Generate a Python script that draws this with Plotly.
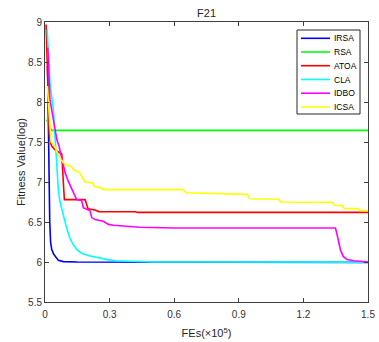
import plotly.graph_objects as go

names = ["IRSA", "RSA", "ATOA", "CLA", "IDBO", "ICSA"]
colors = ["#0000ff", "#00ff00", "#ff0000", "#00ffff", "#ff00ff", "#ffff00"]

irsa_x = [0.012, 0.015, 0.018, 0.022, 0.026, 0.031, 0.04, 0.047, 0.055, 0.062, 0.085, 0.15, 1.5]
irsa_y = [8.45, 7.7, 7.0, 6.5, 6.25, 6.16, 6.1, 6.07, 6.04, 6.02, 6.005, 6.0, 5.995]

rsa_x = [0.008, 0.02, 0.03, 1.5]
rsa_y = [7.78, 7.70, 7.645, 7.645]

atoa_x = [0.005, 0.01, 0.015, 0.02, 0.025, 0.031, 0.047, 0.07, 0.078, 0.085, 0.09, 0.186, 0.2, 0.232, 0.25, 0.42, 0.43, 1.5]
atoa_y = [8.97, 8.5, 7.9, 7.6, 7.5, 7.45, 7.4, 7.37, 7.35, 7.0, 6.78, 6.78, 6.665, 6.65, 6.63, 6.628, 6.62, 6.62]

cla_x = [0.01, 0.023, 0.039, 0.047, 0.055, 0.062, 0.07, 0.085, 0.1, 0.115, 0.13, 0.15, 0.17, 0.2, 0.25, 0.29, 0.33, 0.4, 0.5, 1.5]
cla_y = [8.9, 8.24, 7.9, 7.55, 7.2, 6.9, 6.75, 6.57, 6.43, 6.3, 6.22, 6.15, 6.11, 6.08, 6.05, 6.03, 6.015, 6.005, 6.0, 5.998]

idbo_x = [0.013, 0.023, 0.039, 0.055, 0.065, 0.078, 0.093, 0.108, 0.132, 0.147, 0.17, 0.178, 0.209, 0.217, 0.233, 0.271, 0.295, 0.318, 0.364, 0.44, 0.6, 1.349, 1.36, 1.372, 1.385, 1.403, 1.434, 1.5]
idbo_y = [8.68, 8.03, 7.78, 7.53, 7.45, 7.28, 7.12, 7.01, 6.865, 6.78, 6.77, 6.68, 6.64, 6.555, 6.53, 6.51, 6.47, 6.46, 6.45, 6.435, 6.425, 6.425, 6.3, 6.15, 6.07, 6.03, 6.015, 6.0]

icsa_x = [0.011, 0.016, 0.023, 0.028, 0.045, 0.06, 0.075, 0.085, 0.1, 0.12, 0.135, 0.16, 0.175, 0.185, 0.22, 0.23, 0.26, 0.27, 0.64, 0.655, 0.94, 0.95, 1.085, 1.095, 1.335, 1.345, 1.38, 1.39, 1.455, 1.465, 1.5]
icsa_y = [8.2, 7.95, 7.7, 7.5, 7.45, 7.35, 7.28, 7.24, 7.21, 7.2, 7.15, 7.12, 7.05, 7.0, 6.99, 6.94, 6.93, 6.905, 6.905, 6.865, 6.845, 6.79, 6.785, 6.75, 6.745, 6.71, 6.705, 6.67, 6.665, 6.645, 6.64]

x_ticks = [0, 0.3, 0.6, 0.9, 1.2, 1.5]
x_labels = ["0", "0.3", "0.6", "0.9", "1.2", "1.5"]
y_ticks = [5.5, 6, 6.5, 7, 7.5, 8, 8.5, 9]
y_labels = ["5.5", "6", "6.5", "7", "7.5", "8", "8.5", "9"]

series = [(irsa_x, irsa_y), (rsa_x, rsa_y), (atoa_x, atoa_y),
          (cla_x, cla_y), (idbo_x, idbo_y), (icsa_x, icsa_y)]

fig = go.Figure()
for (xs, ys), n, c in zip(series, names, colors):
    fig.add_trace(go.Scatter(x=xs, y=ys, mode="lines", name=n,
                             line=dict(color=c, width=1.6), showlegend=False))

FONT = "Arial, Liberation Sans, sans-serif"
axis_color = "#404040"
common = dict(showline=True, linecolor=axis_color, linewidth=1, mirror="ticks",
              ticks="inside", ticklen=4, tickcolor=axis_color, showgrid=False,
              zeroline=False, automargin=False,
              tickfont=dict(family=FONT, size=10, color="#333333"))

fig.update_layout(
    width=379, height=342,
    margin=dict(l=45, r=11, t=22, b=40),
    plot_bgcolor="white", paper_bgcolor="white",
    font=dict(family=FONT, size=10, color="#262626"),
    title=dict(text="F21", x=0.545, xanchor="center", y=0.962, yanchor="middle",
               font=dict(family=FONT, size=11, color="#262626")),
    xaxis=dict(range=[0, 1.5], tickvals=x_ticks, ticktext=x_labels,
               ticklabelstandoff=3,
               title=dict(text="FEs(\u00d710<sup>5</sup>)", standoff=10,
                          font=dict(family=FONT, size=11, color="#262626")), **common),
    yaxis=dict(range=[5.5, 9], tickvals=y_ticks, ticktext=y_labels,
               title=dict(text="Fitness Value(log)", standoff=0,
                          font=dict(family=FONT, size=11, color="#262626")), **common),
    showlegend=False,
)

# legend box (MATLAB style) drawn in paper coordinates
pw, ph, left, top = 323.0, 280.0, 45.0, 22.0
def px(xp):
    return (xp - left) / pw
def py(yp):
    return (top + ph - yp) / ph

fig.add_shape(type="rect", xref="paper", yref="paper",
              x0=px(297), x1=px(360), y0=py(114), y1=py(30),
              line=dict(color="#262626", width=1), fillcolor="white", layer="above")
row_y = [38.3, 52.0, 65.7, 79.5, 93.2, 107.0]
for n, c, ry in zip(names, colors, row_y):
    fig.add_shape(type="line", xref="paper", yref="paper",
                  x0=px(301), x1=px(330), y0=py(ry), y1=py(ry),
                  line=dict(color=c, width=1.6), layer="above")
    fig.add_annotation(xref="paper", yref="paper", x=px(331.5), y=py(ry),
                       xanchor="left", yanchor="middle", text=n, showarrow=False,
                       font=dict(family=FONT, size=8.5, color="#000000"))

fig.write_html("out.html", config={"displayModeBar": False},
               post_script="document.body.style.margin='0';document.body.style.overflow='hidden';")
